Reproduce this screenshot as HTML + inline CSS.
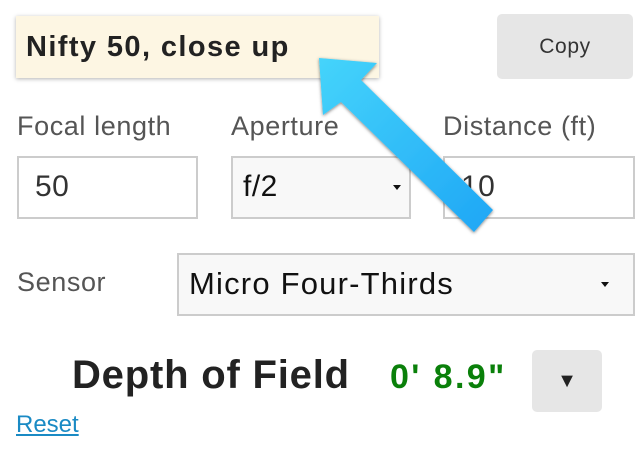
<!DOCTYPE html>
<html><head><meta charset="utf-8"><style>
*{box-sizing:border-box;margin:0;padding:0}
body{width:640px;height:454px;background:#fff;position:relative;overflow:hidden;font-family:"Liberation Sans",sans-serif;color:#444}
.abs{position:absolute}
.lbl{font-size:27px;color:#555;letter-spacing:0.6px}
.inp{border:2px solid #ccc;background:#fff;font-size:30px;color:#333;padding-left:16px;line-height:58px;letter-spacing:0.5px}
.sel{background:#f8f8f8;color:#111;padding-left:10px}
.caret{position:absolute;right:8px;top:27px;width:0;height:0;border-left:4px solid transparent;border-right:4px solid transparent;border-top:5px solid #111}
</style></head><body>
<div class="abs" style="left:16px;top:16px;width:363px;height:62px;background:#fdf6e3;box-shadow:0 1px 4px rgba(0,0,0,.3);font-weight:bold;font-size:29px;letter-spacing:1.4px;color:#222;padding-left:10px;line-height:62px">Nifty 50, close up</div>
<div class="abs" style="left:497px;top:14px;width:136px;height:65px;background:#e6e6e6;border-radius:5px;font-size:21px;letter-spacing:0.6px;color:#333;text-align:center;line-height:65px">Copy</div>
<div class="abs lbl" style="left:17px;top:111px">Focal length</div>
<div class="abs lbl" style="left:231px;top:111px">Aperture</div>
<div class="abs lbl" style="left:443px;top:111px">Distance (ft)</div>
<div class="abs inp" style="left:17px;top:156px;width:181px;height:63px">50</div>
<div class="abs inp sel" style="left:231px;top:156px;width:180px;height:63px">f/2<span class="caret"></span></div>
<div class="abs inp" style="left:443px;top:156px;width:192px;height:63px">10</div>
<div class="abs lbl" style="left:17px;top:267px">Sensor</div>
<div class="abs inp sel" style="left:177px;top:253px;width:458px;height:63px;font-size:31px;letter-spacing:1.2px">Micro Four-Thirds<span class="caret" style="right:24px"></span></div>
<div class="abs" style="left:72px;top:350px;font-size:40px;letter-spacing:0.8px;font-weight:bold;color:#222;line-height:50px">Depth of Field</div>
<div class="abs" style="left:390px;top:352px;font-size:34px;letter-spacing:2.4px;font-weight:bold;color:#0a800a;line-height:50px">0' 8.9"</div>
<div class="abs" style="left:532px;top:350px;width:70px;height:62px;background:#e6e6e6;border-radius:5px;text-align:center;line-height:62px;font-size:20px;color:#222">▼</div>
<div class="abs" style="left:16px;top:411px;font-size:24px;color:#1a8ac4;text-decoration:underline">Reset</div>
<svg class="abs" style="left:0;top:0" width="640" height="454">
<defs><linearGradient id="g" x1="0" y1="0" x2="1" y2="1"><stop offset="0" stop-color="#45d4fb"/><stop offset="1" stop-color="#1ea6f5"/></linearGradient>
<filter id="s"><feDropShadow dx="0" dy="1" stdDeviation="1.5" flood-opacity="0.5"/></filter></defs>
<polygon points="319,58 377,63 361,80 493,210 474,232 341,102 323,115" fill="url(#g)" filter="url(#s)"/>
</svg>
</body></html>
